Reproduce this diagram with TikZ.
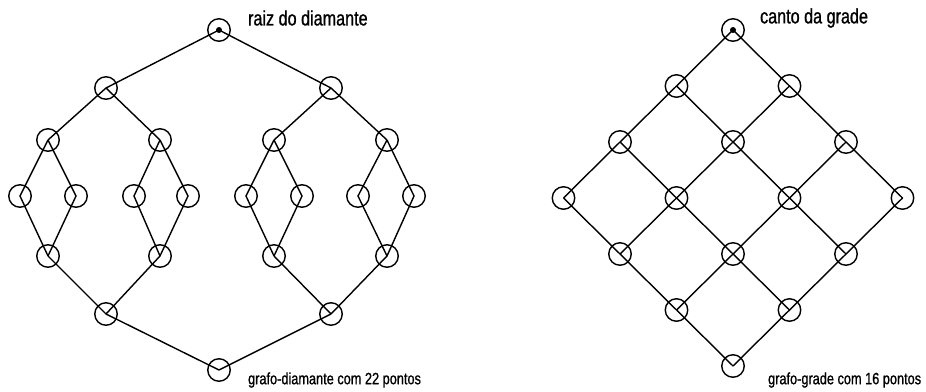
\documentclass[tikz,border=0pt]{standalone}
\usepackage{fontspec}
\setmainfont{Liberation Sans}[FakeStretch=0.78, FakeBold=1]
\usepackage{tikz}
\usetikzlibrary{positioning}

\begin{document}
\begin{tikzpicture}[
        x=0.02cm, y=-0.02cm,
        pt/.style={circle, draw, line width=0.8pt, minimum size=0.45cm, inner sep=0pt},
        ed/.style={line width=0.8pt},
        toplbl/.style={font=\fontsize{11.8}{14}\selectfont, anchor=west, inner sep=1pt},
        botlbl/.style={font=\fontsize{9.3}{11}\selectfont, anchor=west, inner sep=1pt}
    ]
    \useasboundingbox (0,0) rectangle (926,392);

    % =============== grafo-diamante ===============
    \node[pt] (r) at (219,30) {};
    \fill (r.center) circle (3);
    \node[pt] (a1) at (106,88) {};
    \node[pt] (a2) at (331,88) {};
    \foreach \x [count=\i] in {48,160,274,387} {
        \node[pt] (b\i) at (\x,140) {};
        \node[pt] (d\i) at (\x,256) {};
    }
    \foreach \x [count=\i] in {20,76,134,188,246,302,358,414}
        \node[pt] (c\i) at (\x,196) {};
    \node[pt] (e1) at (106,314) {};
    \node[pt] (e2) at (331,314) {};
    \node[pt] (s) at (219,370) {};

    \foreach \i in {1,2} {
        \pgfmathtruncatemacro\kL{2*\i-1}
        \pgfmathtruncatemacro\kR{2*\i}
        \draw[ed] (r.center) -- (a\i.center);
        \draw[ed] (s.center) -- (e\i.center);
        \draw[ed] (a\i.center) -- (b\kL.center);
        \draw[ed] (a\i.center) -- (b\kR.center);
        \draw[ed] (e\i.center) -- (d\kL.center);
        \draw[ed] (e\i.center) -- (d\kR.center);
    }
    \foreach \j in {1,...,4} {
        \pgfmathtruncatemacro\kL{2*\j-1}
        \pgfmathtruncatemacro\kR{2*\j}
        \draw[ed] (b\j.center) -- (c\kL.center) -- (d\j.center);
        \draw[ed] (b\j.center) -- (c\kR.center) -- (d\j.center);
    }

    \node[toplbl] (rlbl) at (246,18) {raiz do diamante};
    \node[botlbl] (slbl) at (246,380) {grafo-diamante com 22 pontos};

    % =============== grafo-grade ===============
    \foreach \i in {0,...,3} {
        \foreach \j in {0,...,3}
            \node[pt] (g\i\j) at ({733+(\j-\i)*56.5},{30+(\i+\j)*56}) {};
    }
    \fill (g00.center) circle (3);

    \foreach \i in {0,...,3} {
        \foreach \j [evaluate=\j as \jn using int(\j+1)] in {0,...,2} {
            \draw[ed] (g\i\j.center) -- (g\i\jn.center);
            \draw[ed] (g\j\i.center) -- (g\jn\i.center);
        }
    }

    \node[toplbl] (glbl) at (758,18) {canto da grade};
    \node[botlbl] (hlbl) at (766,380) {grafo-grade com 16 pontos};
\end{tikzpicture}
\end{document}
